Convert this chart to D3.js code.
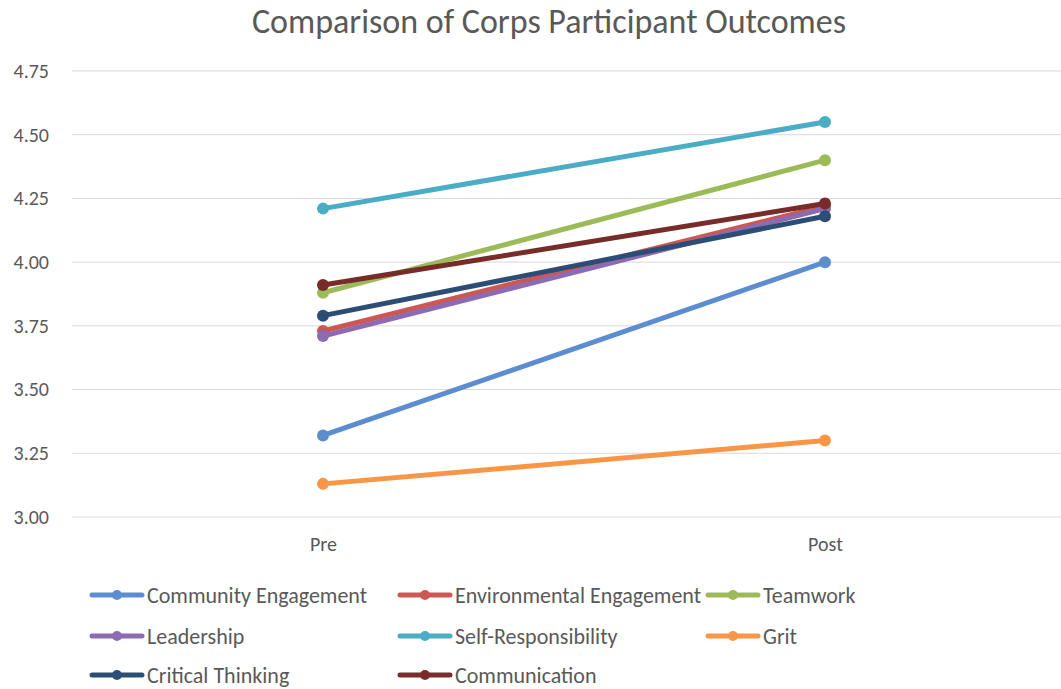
<!DOCTYPE html>
<html>
<head>
<meta charset="utf-8">
<script src="https://cdn.jsdelivr.net/npm/d3@7"></script>
<style>
  body { margin: 0; background: #fff; }
  svg { font-family: Carlito, Lato, "Open Sans", sans-serif; }
</style>
</head>
<body>
<script>
// Chart data
const categories = ['Pre', 'Post'];
const seriesNames = ['Community Engagement', 'Environmental Engagement', 'Teamwork',
  'Leadership', 'Self-Responsibility', 'Grit', 'Critical Thinking', 'Communication'];
const preValues = [3.32, 3.73, 3.88, 3.71, 4.21, 3.13, 3.79, 3.91];
const postValues = [4.00, 4.22, 4.40, 4.21, 4.55, 3.30, 4.18, 4.23];
const yTicks = [3.00, 3.25, 3.50, 3.75, 4.00, 4.25, 4.50, 4.75];
const colors = ['#5b8dd0', '#cd5853', '#9bbb59', '#8c6bb3', '#4bacc6', '#f79646', '#2c4d75', '#772c2a'];

const width = 1061;
const height = 689;

const svg = d3.select('body')
  .append('svg')
  .attr('width', width)
  .attr('height', height);

// Scales (plot area is cropped on the right, as in the original)
const xScale = d3.scalePoint()
  .domain(categories)
  .range([323, 825]);

const yScale = d3.scaleLinear()
  .domain([3.0, 4.75])
  .range([517, 71]);

// Title
svg.append('text')
  .attr('x', 549)
  .attr('y', 33)
  .attr('text-anchor', 'middle')
  .attr('fill', '#595959')
  .style('font-size', '34px')
  .text('Comparison of Corps Participant Outcomes');

// Grid lines
svg.append('g')
  .selectAll('line')
  .data(yTicks)
  .enter()
  .append('line')
  .attr('x1', 72)
  .attr('x2', width)
  .attr('y1', d => yScale(d))
  .attr('y2', d => yScale(d))
  .attr('stroke', '#d9d9d9')
  .attr('stroke-width', 1);

// Y axis labels
const yAxis = svg.append('g')
  .attr('transform', 'translate(52,0)')
  .call(d3.axisLeft(yScale).tickValues(yTicks).tickFormat(d3.format('.2f')).tickSize(0));
yAxis.select('.domain').remove();
yAxis.selectAll('text')
  .attr('fill', '#595959')
  .style('font-size', '20px')
  .style('font-family', 'Carlito, Lato, "Open Sans", sans-serif');

// X axis labels
const xAxis = svg.append('g')
  .attr('transform', 'translate(0,534)')
  .call(d3.axisBottom(xScale).tickSize(0));
xAxis.select('.domain').remove();
xAxis.selectAll('text')
  .attr('fill', '#595959')
  .style('font-size', '20px')
  .style('font-family', 'Carlito, Lato, "Open Sans", sans-serif');

// Series lines and markers
const series = seriesNames.map((name, i) => ({
  name: name,
  color: colors[i],
  values: [
    { cat: 'Pre', v: preValues[i] },
    { cat: 'Post', v: postValues[i] }
  ]
}));

const line = d3.line()
  .x(d => xScale(d.cat))
  .y(d => yScale(d.v));

const sg = svg.append('g')
  .selectAll('g')
  .data(series)
  .enter()
  .append('g');

sg.append('path')
  .attr('d', d => line(d.values))
  .attr('fill', 'none')
  .attr('stroke', d => d.color)
  .attr('stroke-width', 5)
  .attr('stroke-linecap', 'round');

sg.selectAll('circle')
  .data(d => d.values.map(p => ({ ...p, color: d.color })))
  .enter()
  .append('circle')
  .attr('cx', d => xScale(d.cat))
  .attr('cy', d => yScale(d.v))
  .attr('r', 6)
  .attr('fill', d => d.color);

// Legend
const legendCols = [92, 400, 708];
const legendRows = [595, 636, 675];

const lg = svg.append('g')
  .selectAll('g')
  .data(series)
  .enter()
  .append('g')
  .attr('transform', (d, i) => `translate(${legendCols[i % 3]},${legendRows[Math.floor(i / 3)]})`);

lg.append('line')
  .attr('x1', 0)
  .attr('x2', 50)
  .attr('stroke', d => d.color)
  .attr('stroke-width', 5)
  .attr('stroke-linecap', 'round');

lg.append('circle')
  .attr('cx', 25)
  .attr('r', 5)
  .attr('fill', d => d.color);

lg.append('text')
  .attr('x', 55)
  .attr('dy', '0.35em')
  .attr('fill', '#595959')
  .style('font-size', '22px')
  .text(d => d.name);
</script>
</body>
</html>
